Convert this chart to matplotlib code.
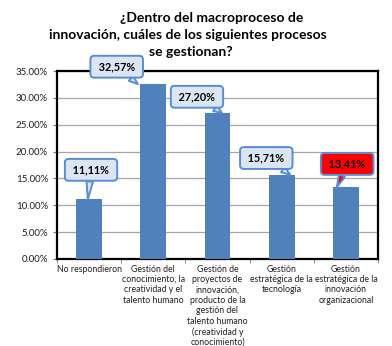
import matplotlib.pyplot as plt
from matplotlib.ticker import FuncFormatter

categories = [
    "No respondieron",
    "Gestión del\nconocimiento, la\ncreatividad y el\ntalento humano",
    "Gestión de\nproyectos de\ninnovación,\nproducto de la\ngestión del\ntalento humano\n(creatividad y\nconocimiento)",
    "Gestión\nestratégica de la\ntecnología",
    "Gestión\nestratégica de la\ninnovación\norganizacional",
]
values = [11.11, 32.57, 27.20, 15.71, 13.41]
labels = ["11,11%", "32,57%", "27,20%", "15,71%", "13,41%"]
# callout box centres (category units, percent)
label_pos = [(0.03, 16.6), (0.43, 35.8), (1.68, 30.2), (2.76, 18.8), (4.02, 17.7)]
tip_dx = [-0.02, -0.24, 0.07, 0.13, -0.14]
highlight = [False, False, False, False, True]

plt.rcParams["font.family"] = ["Lato", "DejaVu Sans"]

fig = plt.figure(figsize=(3.92, 3.46), dpi=100)
ax = fig.add_axes([57 / 392, 1 - 259 / 346, 321 / 392, 188 / 346])

x = range(len(categories))
ax.bar(x, values, width=0.4, color="#4F81BD", zorder=3)

ax.set_xlim(-0.5, len(categories) - 0.5)
ax.set_ylim(0, 35)
ax.set_yticks(range(0, 36, 5))
ax.yaxis.set_major_formatter(FuncFormatter(lambda v, _: "%.2f%%" % v))
ax.set_xticks(list(x))
ax.set_xticklabels(categories, fontsize=6.3, linespacing=1.2, color="#202020")
ax.set_xticks([i + 0.5 for i in range(-1, len(categories))], minor=True)
ax.tick_params(axis="x", which="major", length=0, pad=4)
ax.tick_params(axis="x", which="minor", length=3, color="#808080")
ax.tick_params(axis="y", labelsize=7, length=3, color="#808080", labelcolor="#202020")
ax.grid(axis="y", color="#A6A6A6", linewidth=0.9, zorder=0)
for s in ax.spines.values():
    s.set_linewidth(1.6)
    s.set_color("black")

for i, (v, lab, (lx, ly), dx, hl) in enumerate(zip(values, labels, label_pos, tip_dx, highlight)):
    fc = "#FF0000" if hl else "#DCE6F2"
    ec = "#558ED5"
    ax.annotate(
        " " + lab + " ",
        xy=(i + dx, v),
        xytext=(lx, ly),
        ha="center",
        va="center",
        fontsize=7.8,
        fontweight="bold",
        color="black",
        annotation_clip=False,
        zorder=5,
        bbox=dict(boxstyle="round,pad=0.5,rounding_size=0.35", fc=fc, ec=ec, lw=1.4),
        arrowprops=dict(arrowstyle="wedge,tail_width=0.6,shrink_factor=0.5", fc=fc, ec=ec, lw=1.4,
                        shrinkA=0, shrinkB=0),
    )

title_lines = [
    (212, 18, "¿Dentro del macroproceso de"),
    (188, 35, "innovación, cuáles de los siguientes procesos"),
    (191, 52, "se gestionan?"),
]
for tx, ty, t in title_lines:
    fig.text(tx / 392, 1 - ty / 346, t, ha="center", va="center", fontsize=10, fontweight="bold")

fig.savefig("out.png", dpi=100)
